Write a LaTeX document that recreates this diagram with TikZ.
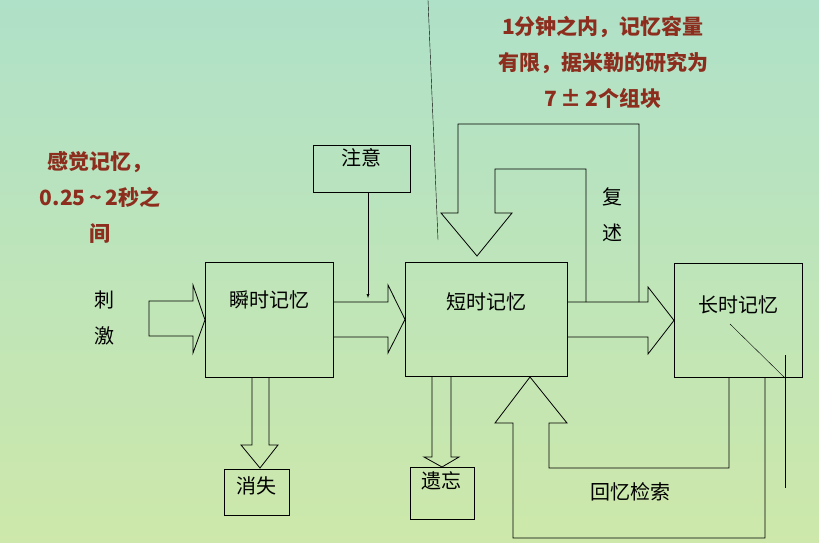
\documentclass[tikz,border=0pt]{standalone}
\usepackage{fontspec}
\newfontfamily\cjk{Noto Sans CJK SC}
\tikzset{
  membox/.style={draw, thick, fill=none, inner sep=0pt, anchor=north west},
  boxtext/.style={font=\cjk\fontsize{20}{36}\selectfont, align=center},
  note/.style={font=\cjk\bfseries\fontsize{21}{36}\selectfont, text=notered, align=center},
  fat/.style={draw, thick, line join=miter},
}
\definecolor{notered}{RGB}{140,45,30}
\definecolor{bgtop}{RGB}{175,225,200}
\definecolor{bgbot}{RGB}{205,232,170}
\begin{document}
\begin{tikzpicture}[x=1pt, y=-1pt]
    % background
    \shade[top color=bgtop, bottom color=bgbot] (0,0) rectangle (819,543);
    \useasboundingbox (0,0) rectangle (819,543);

    % boxes
    \node[membox, minimum width=128pt, minimum height=115pt] (inst) at (205,262) {};
    \node[boxtext] at (269,300) {瞬时记忆};
    \node[membox, minimum width=162pt, minimum height=114pt] (stm) at (405,262) {};
    \node[boxtext] at (486,302) {短时记忆};
    \node[membox, minimum width=128pt, minimum height=114pt] (ltm) at (674,263) {};
    \node[boxtext] at (738,305) {长时记忆};
    \node[membox, minimum width=97pt, minimum height=47pt] (attn) at (313,145) {};
    \node[boxtext] at (361,158) {注意};
    \node[membox, minimum width=65pt, minimum height=46pt] (lost) at (224,469) {};
    \node[boxtext] at (256,486) {消失};
    \node[membox, minimum width=64pt, minimum height=52pt] (forget) at (410,467) {};
    \node[boxtext] at (441,481) {遗忘};

    % notes
    \node[note] (sens) at (100,197) {感觉记忆，\\0.25\,\string~\,2秒之\\间};
    \node[note] (span) at (603,62) {1分钟之内，记忆容量\\有限，据米勒的研究为\\7\,±\,2个组块};
    \node[boxtext] (stim) at (104,318) {刺\\激};
    \node[boxtext] (rehe) at (612,215) {复\\述};
    \node[boxtext] (recall) at (630,492) {回忆检索};

    % fat arrows
    \draw[fat] (149,301) -- (193,301) -- (193,285) -- (inst.west) -- (193,353) -- (193,336) -- (149,336) -- cycle;
    \draw[fat] (333,302) -- (388,302) -- (388,285) -- (stm.west) -- (388,353) -- (388,337) -- (333,337);
    \draw[fat] (567,302) -- (648,302) -- (648,287) -- (ltm.west) -- (648,354) -- (648,337) -- (567,337);
    \draw[fat] (252,377) -- (252,445) -- (241,445) -- (260,468) -- (278,445) -- (269,445) -- (269,377);
    \draw[fat] (432,376) -- (432,457) -- (424,457) -- (442,467) -- (459,457) -- (451,457) -- (451,376);

    % rehearsal loops
    \draw[fat] (639,302) -- (639,124) -- (458,124) -- (458,213) -- (441,213) -- (477,256)
               -- (512,213) -- (495,213) -- (495,169) -- (586,169) -- (586,302);

    % retrieval loops
    \draw[fat] (765,377) -- (765,538) -- (513,538) -- (513,423) -- (495,423) -- (530,377)
               -- (567,423) -- (549,423) -- (549,468) -- (729,468) -- (729,377);

    % attention
    \draw[-latex] (attn.south -| 368,0) -- (368,298);

    % stray lines
    \draw (730,324) -- (785,378);
    \draw (785,355) -- (785,488);
    \draw (428,0) -- (438,240);
\end{tikzpicture}
\end{document}
